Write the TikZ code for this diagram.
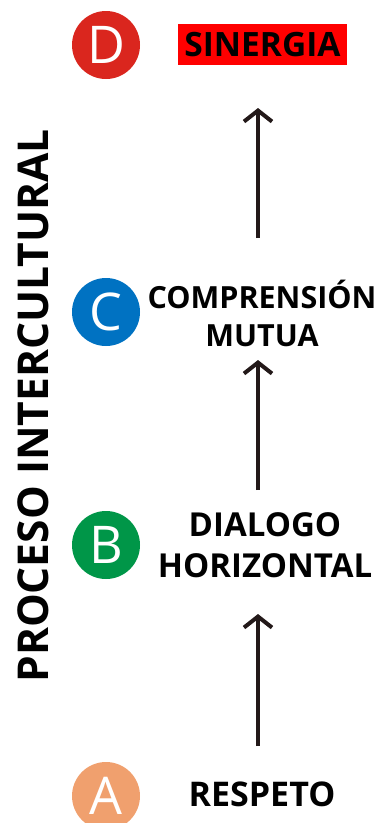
\documentclass[tikz,border=0pt]{standalone}
\usepackage{fontspec}
\setmainfont{Open Sans}
\usetikzlibrary{arrows.meta,positioning}
\definecolor{rojoD}{RGB}{218,38,30}
\definecolor{azulC}{RGB}{0,114,194}
\definecolor{verdeB}{RGB}{0,150,72}
\definecolor{naranjaA}{RGB}{240,160,110}
\definecolor{flecha}{RGB}{35,25,25}
\tikzset{
    etapa/.style={circle, minimum size=68pt, inner sep=0pt, text=white, font=\fontsize{52}{52}\selectfont},
    rotulo/.style={align=center, font=\bfseries\fontsize{33}{41}\selectfont},
    flechita/.style={draw=flecha, line width=4pt, -{Straight Barb[length=11pt, width=28pt]}}
}

\begin{document}
\begin{tikzpicture}[x=1pt, y=-1pt]
    \useasboundingbox (0, 0) rectangle (379, 823);
    \node[etapa, fill=rojoD] (d) at (106, 45) {D};
    \node[etapa, fill=azulC] (c) at (106, 312) {C};
    \node[etapa, fill=verdeB] (b) at (106, 545) {B};
    \node[etapa, fill=naranjaA] (a) at (106, 796) {A};
    \node[rotulo, font=\bfseries\fontsize{33.5}{41}\selectfont, fill=red, inner sep=2pt, minimum width=169pt, minimum height=41pt] (sin) at (262.5, 44.5) {SINERGIA};
    \node[rotulo, font=\bfseries\fontsize{30.5}{38}\selectfont] (com) at (262, 313) {COMPRENSIÓN\\MUTUA};
    \node[rotulo] (dia) at (265, 545) {DIALOGO\\HORIZONTAL};
    \node[rotulo, font=\bfseries\fontsize{34}{41}\selectfont] (res) at (262, 794) {RESPETO};
    \node[rotate=90, font=\bfseries\fontsize{42.5}{42.5}\selectfont] (pro) at (33, 406) {PROCESO INTERCULTURAL};
    \coordinate (a1) at (258, 746);
    \coordinate (a2) at (258, 614);
    \coordinate (b1) at (258, 490);
    \coordinate (b2) at (258, 360);
    \coordinate (c1) at (258, 238);
    \coordinate (c2) at (258, 108);
    \draw
    (a1) edge[flechita] (a2)
    (b1) edge[flechita] (b2)
    (c1) edge[flechita] (c2);
\end{tikzpicture}
\end{document}
